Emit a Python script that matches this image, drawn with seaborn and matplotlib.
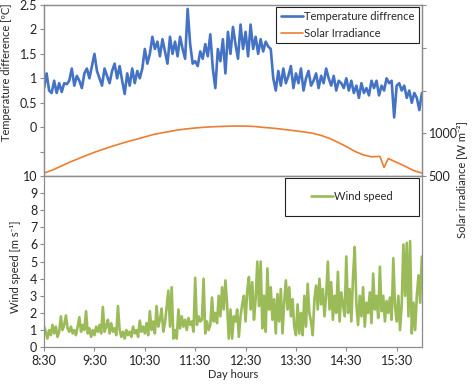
import numpy as np
import pandas as pd
import matplotlib
matplotlib.use('Agg')
import matplotlib.pyplot as plt
from matplotlib.patches import Rectangle
import seaborn as sns

# minutes after 8:30
START_MIN = 0
END_MIN = 450

# temperature difference [oC], every 3 min
temp_step = 3
temp_values = [
    0.8, 1.1, 0.75, 0.7, 0.95, 0.7, 0.9, 0.72, 0.9, 0.88, 0.95,
    1.2, 0.85, 1.05, 0.95, 0.8, 1.1, 1.2, 1.0, 1.25, 1.5,
    1.15, 1.0, 0.85, 1.2, 1.05, 0.9, 1.15, 1.3, 1.0, 1.25,
    0.95, 0.68, 1.1, 0.85, 1.2, 0.9, 1.15, 1.0, 1.2, 1.6,
    1.3, 1.5, 1.85, 1.6, 1.75, 1.45, 1.8, 1.55, 1.3, 1.85,
    1.5, 1.75, 1.45, 1.85, 1.6, 1.4, 2.42, 1.7, 1.3, 1.35,
    1.25, 1.55, 1.4, 1.7, 1.45, 1.9, 1.2, 0.8, 1.6, 1.35,
    1.8, 1.1, 1.95, 1.5, 2.05, 1.7, 1.4, 2.1, 1.6, 1.95,
    1.45, 2.1, 1.6, 1.85, 1.5, 1.8, 1.55, 1.75, 1.65, 1.6,
    1.0, 0.75, 1.15, 0.85, 1.2, 0.9, 1.05, 1.25, 0.8, 1.1,
    0.9, 1.2, 0.75, 1.0, 1.15, 0.85, 0.95, 1.1, 0.8, 1.05,
    0.9, 1.2, 1.0, 0.85, 1.05, 0.75, 0.95, 0.9, 0.8, 1.0,
    0.75, 0.95, 0.7, 0.85, 0.6, 0.9, 0.7, 0.8, 0.65, 0.95,
    0.8, 0.95, 0.65, 0.85, 0.75, 1.0, 0.9, 0.95, 0.2, 0.85,
    0.9, 0.75, 0.85, 0.6, 0.75, 0.5, 0.7, 0.6, 0.35, 0.7,
]

# solar irradiance [W m-2]
solar_minutes = [0, 10, 20, 30, 40, 50, 60, 70, 80, 90, 100, 110, 120, 130,
                 140, 150, 160, 170, 180, 190, 200, 210, 220, 230, 240, 250,
                 260, 270, 280, 290, 300, 310, 320, 330, 340, 350, 360, 370,
                 380, 390, 400, 405, 410, 420, 430, 440, 450]
solar_values = [535, 570, 615, 660, 700, 740, 778, 812, 845, 875, 905, 930,
                958, 985, 1005, 1022, 1040, 1052, 1062, 1070, 1076, 1080,
                1083, 1085, 1084, 1080, 1070, 1062, 1052, 1040, 1028, 1015,
                1000, 975, 940, 895, 845, 790, 748, 725, 730, 600, 705, 660,
                615, 565, 535]

# wind speed [m s-1], every 2 min
wind_step = 2
wind_values = [
    1.2, 0.9, 0.5, 1.0, 0.7, 1.3, 0.8, 1.2, 0.6, 0.9,
    1.8, 1.0, 1.3, 1.85, 1.1, 0.9, 1.2, 0.8, 1.0, 0.7,
    1.2, 1.75, 0.9, 1.3, 1.0, 2.1, 0.8, 1.1, 0.6, 1.0,
    0.7, 1.2, 0.9, 1.3, 0.8, 2.35, 0.9, 1.2, 1.6, 0.8,
    1.4, 0.9, 1.1, 0.7, 2.4, 1.0, 0.6, 0.9, 0.5, 1.0,
    0.7, 0.9, 0.6, 1.2, 0.8, 1.0, 0.6, 1.55, 0.9, 1.2,
    0.8, 1.4, 0.7, 2.1, 1.0, 1.5, 0.8, 2.4, 1.2, 1.6,
    2.25, 0.9, 1.4, 2.35, 3.3, 1.2, 3.5, 0.5, 1.0, 0.5,
    2.2, 1.1, 1.8, 1.2, 1.6, 1.0, 1.7, 1.3, 1.5, 0.9,
    4.05, 1.3, 1.8, 1.5, 1.6, 4.0, 0.8, 1.5, 1.0, 1.3,
    2.9, 1.5, 2.0, 1.4, 3.0, 1.8, 3.5, 2.2, 3.9, 2.5,
    0.5, 2.2, 0.5, 1.8, 1.5, 2.2, 0.6, 1.8, 2.5, 3.0,
    1.5, 3.3, 4.1, 2.2, 3.8, 1.6, 2.8, 5.0, 2.4, 5.0,
    1.1, 3.0, 0.9, 4.6, 2.2, 3.5, 1.6, 2.8, 0.8, 3.1,
    1.5, 3.4, 0.8, 2.6, 3.9, 2.2, 3.5, 1.8, 2.8, 1.2,
    0.7, 2.5, 0.8, 2.0, 0.7, 3.0, 1.2, 3.7, 2.0, 1.5,
    0.7, 2.8, 3.6, 2.2, 4.0, 2.5, 3.4, 1.8, 3.0, 5.0,
    2.2, 3.8, 1.6, 3.0, 2.0, 4.4, 1.5, 3.2, 2.5, 1.8,
    5.3, 2.0, 3.4, 1.5, 4.1, 5.85, 2.5, 1.3, 3.0, 1.8,
    3.5, 1.2, 2.6, 2.0, 3.2, 1.4, 4.3, 2.2, 3.0, 1.7,
    4.7, 2.1, 3.0, 1.5, 2.7, 2.0, 2.9, 1.6, 5.2, 2.4,
    1.5, 3.0, 1.0, 2.5, 6.0, 3.0, 6.1, 1.8, 6.2, 0.8,
    2.6, 1.0, 3.0, 4.2, 2.6, 5.3,
]

hour_ticks = [0, 60, 120, 180, 240, 300, 360, 420]
hour_labels = ['8:30', '9:30', '10:30', '11:30', '12:30', '13:30', '14:30', '15:30']

BLUE = '#4472C4'
ORANGE = '#ED7D31'
GREEN = '#9BBB59'
GRAY = '#8C8C8C'

sns.set_style('white')
plt.rcParams['font.family'] = ['Lato', 'DejaVu Sans']
plt.rcParams['font.size'] = 9

df_temp = pd.DataFrame({'t': np.arange(len(temp_values)) * temp_step, 'v': temp_values})
df_solar = pd.DataFrame({'t': solar_minutes, 'v': solar_values})
df_wind = pd.DataFrame({'t': np.arange(len(wind_values)) * wind_step, 'v': wind_values})

fig, (ax_t, ax_w) = plt.subplots(2, 1, figsize=(4.74, 3.84), dpi=100, sharex=True)
fig.subplots_adjust(left=0.093, right=0.890, top=0.987, bottom=0.096, hspace=0)

ax_s = ax_t.twinx()

sns.lineplot(data=df_temp, x='t', y='v', ax=ax_t, color=BLUE, lw=1.9,
             label='Temperature diffrence', legend=False)
sns.lineplot(data=df_solar, x='t', y='v', ax=ax_s, color=ORANGE, lw=1.2,
             label='Solar Irradiance', legend=False)
sns.lineplot(data=df_wind, x='t', y='v', ax=ax_w, color=GREEN, lw=1.9,
             label='Wind speed', legend=False)

ax_t.set_xlim(START_MIN, END_MIN)
ax_t.set_ylim(-1, 2.5)
ax_t.set_yticks(np.arange(-0.5, 2.51, 0.5))
ax_t.set_yticklabels([''] + ['0', '0.5', '1', '1.5', '2', '2.5'])
ax_s.set_ylim(500, 2500)
ax_s.set_yticks([500, 1000, 1500, 2000, 2500])
ax_s.set_yticklabels(['500', '1000', '', '', ''])
ax_w.set_ylim(0, 10)
ax_w.set_yticks(range(0, 11))
ax_w.set_xticks(hour_ticks)
ax_w.set_xticklabels(hour_labels)

for ax in (ax_t, ax_s, ax_w):
    for sp in ax.spines.values():
        sp.set_color(GRAY)
        sp.set_linewidth(0.9)
    ax.tick_params(colors=GRAY, labelcolor='#222222', length=3, width=0.8,
                   labelsize=9, pad=2)
    ax.set_xlabel('')
    ax.set_ylabel('')
ax_t.tick_params(axis='y', left=True, direction='out')
ax_t.tick_params(axis='x', bottom=False)
ax_s.tick_params(axis='y', right=True, direction='out', pad=2)
ax_w.tick_params(axis='y', left=True, direction='out')
ax_w.tick_params(axis='x', bottom=True, direction='out', pad=3)

ax_t.set_ylabel('Temperature difference [ºC]', fontsize=8)
ax_t.yaxis.set_label_coords(-0.085, 0.61)
ax_s.set_ylabel('Solar irradiance [W m⁻²]', fontsize=8, rotation=90)
ax_s.yaxis.set_label_coords(1.09, -0.02)
ax_w.set_ylabel('Wind speed [m s⁻¹]', fontsize=8)
ax_w.yaxis.set_label_coords(-0.06, 0.47)
ax_w.set_xlabel('Day hours', fontsize=8)
ax_w.xaxis.set_label_coords(0.5, -0.13)

h1, l1 = ax_t.get_legend_handles_labels()
h2, l2 = ax_s.get_legend_handles_labels()
leg = ax_s.legend(h1 + h2, l1 + l2, loc='upper right', bbox_to_anchor=(0.992, 0.99),
                  frameon=True, fancybox=False, framealpha=1, edgecolor='#222222',
                  fontsize=8, handlelength=2.0, handletextpad=0.1,
                  borderpad=0.4, labelspacing=0.5, borderaxespad=0)
leg.get_frame().set_linewidth(0.8)

# wide Excel-style frame around the wind legend
ax_w.add_patch(Rectangle((0.638, 0.766), 0.354, 0.222, transform=ax_w.transAxes,
                         fill=True, facecolor='white', edgecolor='#222222',
                         lw=0.8, zorder=4))
leg_w = ax_w.legend(loc='center', bbox_to_anchor=(0.815, 0.88),
                    frameon=False, fontsize=8, handlelength=2.0,
                    handletextpad=0.1, borderaxespad=0)
leg_w.set_zorder(5)

fig.savefig('out.png', dpi=100)
